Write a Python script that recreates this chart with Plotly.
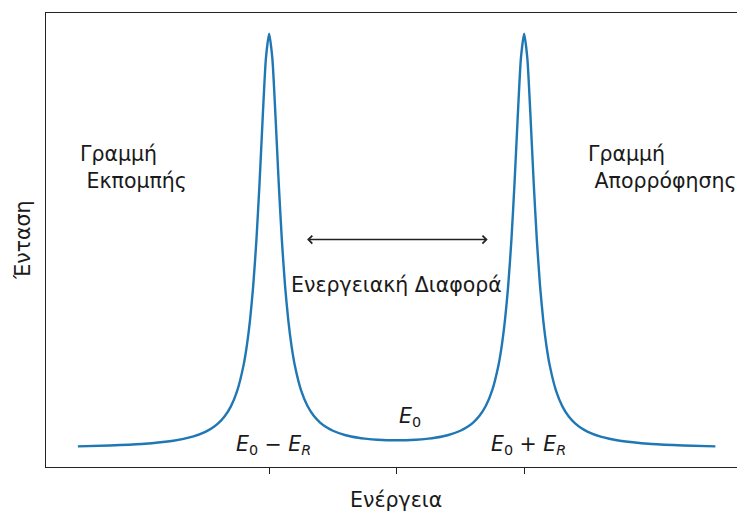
import plotly.graph_objects as go

# Energy axis (E0 = 0, recoil energy E_R = 1) and line intensity
energy = [-2.5, -2.25, -2.0, -1.75, -1.6, -1.5, -1.45, -1.4, -1.35, -1.3, -1.25,
          -1.2, -1.175, -1.15, -1.125, -1.1, -1.075, -1.05, -1.025, -1.0,
          -0.975, -0.95, -0.925, -0.9, -0.875, -0.85, -0.825, -0.8, -0.75,
          -0.7, -0.65, -0.6, -0.55, -0.5, -0.4, -0.3, -0.25, -0.15, 0.0,
          0.15, 0.25, 0.3, 0.4, 0.5, 0.55, 0.6, 0.65, 0.7, 0.75, 0.8, 0.825,
          0.85, 0.875, 0.9, 0.925, 0.95, 0.975, 1.0, 1.025, 1.05, 1.075, 1.1,
          1.125, 1.15, 1.175, 1.2, 1.25, 1.3, 1.35, 1.4, 1.45, 1.5, 1.6, 1.75,
          2.0, 2.25, 2.5]
intensity = [0.0052, 0.0073, 0.0110, 0.0188, 0.0285, 0.0401, 0.0487, 0.0605,
             0.0773, 0.1019, 0.1399, 0.2021, 0.2483, 0.3099, 0.3924, 0.5023,
             0.6423, 0.8024, 0.9436, 1.0025, 0.9438, 0.8026, 0.6427, 0.5028,
             0.3930, 0.3106, 0.2492, 0.2031, 0.1412, 0.1035, 0.0792, 0.0627,
             0.0512, 0.0429, 0.0321, 0.0259, 0.0239, 0.0212, 0.0198,
             0.0212, 0.0239, 0.0259, 0.0321, 0.0429, 0.0512, 0.0627, 0.0792,
             0.1035, 0.1412, 0.2031, 0.2492, 0.3106, 0.3930, 0.5028, 0.6427,
             0.8026, 0.9438, 1.0025, 0.9436, 0.8024, 0.6423, 0.5023, 0.3924,
             0.3099, 0.2483, 0.2021, 0.1399, 0.1019, 0.0773, 0.0605, 0.0487,
             0.0401, 0.0285, 0.0188, 0.0110, 0.0073, 0.0052]

# tick marks at E0 - E_R, E0, E0 + E_R (drawn without labels)
tick_vals = [-1, 0, 1]

FONT = "DejaVu Sans"
TXT = "#1a1a1a"
FS = 20.5

fig = go.Figure()
fig.add_trace(go.Scatter(
    x=energy, y=intensity, mode="lines",
    line=dict(color="#1f77b4", width=2.4, shape="spline", smoothing=0.6),
    hoverinfo="skip", showlegend=False,
))

pad_y = 0.05 * (max(intensity) - min(intensity))
fig.update_layout(
    width=737, height=512,
    margin=dict(l=46, r=0, t=13, b=45),
    paper_bgcolor="white", plot_bgcolor="white",
    font=dict(family=FONT, size=FS, color=TXT),
    xaxis=dict(
        range=[-2.75, -2.75 + 691 / 127.5],
        tickmode="array", tickvals=tick_vals, showticklabels=False,
        ticks="outside", ticklen=6, tickwidth=1.2, tickcolor="#222",
        showline=True, linecolor="#222", linewidth=1.3, mirror=True,
        showgrid=False, zeroline=False, fixedrange=True,
    ),
    yaxis=dict(
        range=[min(intensity) - pad_y, max(intensity) + pad_y],
        showticklabels=False, ticks="",
        showline=True, linecolor="#222", linewidth=1.3, mirror=False,
        showgrid=False, zeroline=False, fixedrange=True,
    ),
)

annotations = [
    # axis labels
    dict(text="Ενέργεια", xref="paper", yref="paper", x=350 / 691, y=-0.0727,
         xanchor="center", yanchor="middle", showarrow=False),
    dict(text="Ένταση", xref="paper", yref="paper", x=-23 / 691, y=0.5,
         xanchor="center", yanchor="middle", textangle=-90, showarrow=False),
    # line labels
    dict(text="Γραμμή<br>\u00a0Εκπομπής", xref="x", yref="y", x=-2.5, y=0.678,
         xanchor="left", yanchor="middle", align="left", showarrow=False),
    dict(text="Γραμμή<br>\u00a0Απορρόφησης", xref="x", yref="y", x=1.485, y=0.678,
         xanchor="left", yanchor="middle", align="left", showarrow=False),
    dict(text="Ενεργειακή Διαφορά", xref="x", yref="y", x=0.0, y=0.395,
         xanchor="center", yanchor="middle", showarrow=False),
    # energy markers
    dict(text="<i>E</i><sub>0</sub>", xref="x", yref="y", x=0.0, y=0.076,
         xanchor="left", yanchor="middle", showarrow=False),
    dict(text="<i>E</i><sub>0</sub> − <i>E</i><sub><i>R</i></sub>", xref="x", yref="y",
         x=-0.965, y=0.0085, xanchor="center", yanchor="middle", showarrow=False),
    dict(text="<i>E</i><sub>0</sub> + <i>E</i><sub><i>R</i></sub>", xref="x", yref="y",
         x=1.035, y=0.0085, xanchor="center", yanchor="middle", showarrow=False),
    # energy-difference double arrow
    dict(x=0.714, y=0.505, ax=-0.714, ay=0.505, xref="x", yref="y",
         axref="x", ayref="y", text="", showarrow=True, arrowhead=4,
         arrowside="end+start", arrowsize=1.1, arrowwidth=1.4, arrowcolor="#222"),
]
fig.update_layout(annotations=annotations)

fig.write_html("out.html")
